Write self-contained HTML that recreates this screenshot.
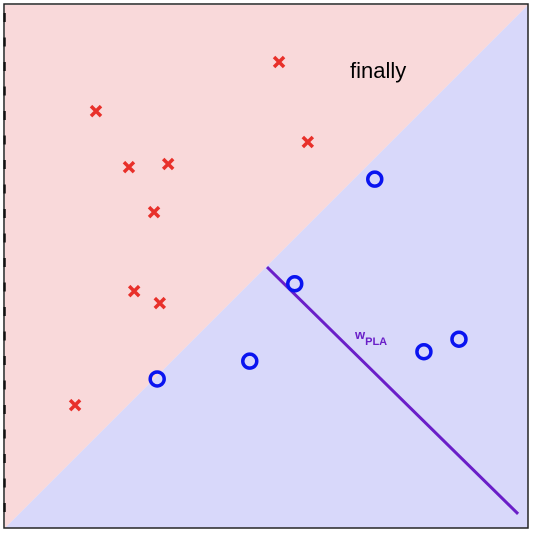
<!DOCTYPE html>
<html><head><meta charset="utf-8"><style>
html,body{margin:0;padding:0;background:#fff;}
svg{display:block;font-family:"Liberation Sans",sans-serif;}
</style></head><body>
<svg id="chart" width="536" height="534">
<rect x="0" y="0" width="536" height="534" fill="#ffffff"/>
</svg>
<script>
const crossX=[52.4,17.4,57.9,23.7,31.2,28.5,24.7,29.6,13.4];
const crossY=[89.1,79.7,73.8,69.0,69.6,60.4,45.3,43.0,23.5];
const circleX=[70.7,55.4,46.8,29.1,80.1,86.8];
const circleY=[66.7,46.7,31.9,28.5,33.7,36.1];
const plaX=[50.1,98.1];
const plaY=[49.9,2.7];
const boundaryX=[0,100];
const boundaryY=[0,100];
const L=5,T=5,W=523,H=523;
const sx=v=>L+v/100*W, sy=v=>T+H-v/100*H;
const svg=document.getElementById('chart');
const NS='http://www.w3.org/2000/svg';
function mk(t,a){const e=document.createElementNS(NS,t);for(const k in a)e.setAttribute(k,a[k]);svg.appendChild(e);return e;}
let r=mk('polygon',{points:`${sx(0)},${sy(0)} ${sx(0)},${sy(100)} ${sx(100)},${sy(100)}`,fill:'#f9d9da'});


r=mk('polygon',{points:`${sx(boundaryX[0])},${sy(boundaryY[0])} ${sx(boundaryX[1])},${sy(boundaryY[1])} ${sx(100)},${sy(0)}`,fill:'#d8d8fa'});


r=mk('rect',{x:L-1,y:T-1,width:W+1,height:H+1,fill:'none',stroke:'#222','stroke-width':1.5});


for(let i=0;i<=20;i++){const y=T+8+i*24.5;
 const t=mk('line',{x1:L-0.5,x2:L-0.5,y1:y,y2:y+9,stroke:'#111','stroke-width':2.5});
 
 }
const pl=mk('line',{x1:sx(plaX[0]),y1:sy(plaY[0]),x2:sx(plaX[1]),y2:sy(plaY[1]),stroke:'#6a1fc8','stroke-width':3});


crossX.forEach((x,i)=>{const cx=sx(x),cy=sy(crossY[i]),d=5;
 const p=mk('path',{d:`M${cx-d},${cy-d}L${cx+d},${cy+d}M${cx-d},${cy+d}L${cx+d},${cy-d}`,stroke:'#e8302a','stroke-width':3.5});
 
 });
circleX.forEach((x,i)=>{
 const c=mk('circle',{cx:sx(x),cy:sy(circleY[i]),r:7,fill:'none',stroke:'#0a14f0','stroke-width':3.5});
 
 });
let t=mk('text',{x:350,y:78,'font-size':22,fill:'#000'});t.textContent='finally';


t=mk('text',{x:355,y:339,'font-size':13,'font-weight':'bold',fill:'#6a1fc8'});
t.innerHTML='w<tspan dy="6" font-size="11">PLA</tspan>';


</script>
</body></html>
